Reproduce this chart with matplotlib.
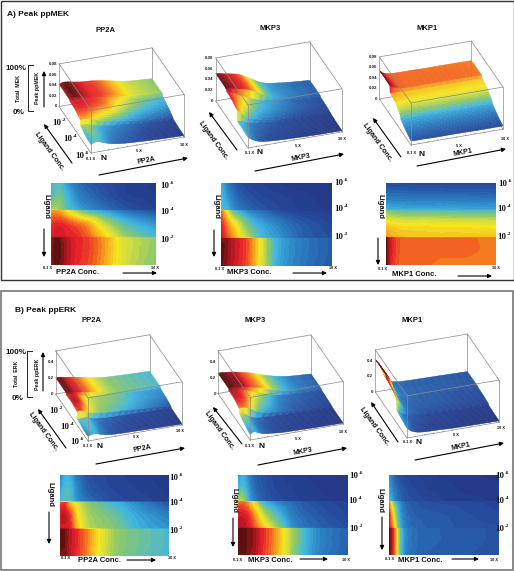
#!/usr/bin/env python
# -*- coding: utf-8 -*-

import numpy as np
import matplotlib
matplotlib.use('Agg')
import matplotlib.pyplot as plt
import matplotlib.tri as mtri
from matplotlib.colors import LinearSegmentedColormap
from matplotlib.patches import Rectangle
from mpl_toolkits.mplot3d import proj3d

W, H = 514, 571

CONC = [0.1, 0.5, 1, 1.5, 2.5, 3.5, 5, 7, 10]
# log10 ligand; the doubled rows are the steps at 1e-4 and 1e-2
LIGAND = [-6, -5, -4.03, -3.97, -3, -2.03, -1.97, -1, 0]

# values, percent of the panel's peak, top row = 1e-6
MEK_PP2A = [[35, 42, 40, 33, 22, 17, 13, 9, 6],
            [38, 45, 46, 40, 28, 22, 16, 10, 7],
            [52, 54, 50, 44, 35, 29, 23, 15, 9],
            [74, 75, 72, 66, 52, 42, 33, 22, 13],
            [85, 87, 87, 85, 80, 74, 58, 42, 30],
            [88, 90, 90, 89, 87, 82, 70, 53, 40],
            [93, 98, 97, 93, 88, 85, 76, 60, 51],
            [94, 100, 98, 94, 88, 85, 76, 60, 50],
            [93, 98, 97, 93, 87, 84, 75, 59, 49]]
MEK_MKP3 = [[38, 28, 20, 15, 11, 9, 7, 5, 4],
            [40, 33, 26, 20, 15, 12, 10, 8, 5],
            [42, 40, 32, 26, 20, 16, 12, 9, 6],
            [80, 68, 50, 40, 28, 22, 15, 10, 7],
            [88, 80, 70, 62, 45, 36, 27, 18, 11],
            [92, 85, 78, 70, 55, 42, 32, 20, 13],
            [97, 97, 93, 90, 82, 65, 38, 26, 17],
            [99, 97, 93, 90, 82, 65, 38, 26, 17],
            [98, 96, 92, 89, 81, 64, 37, 25, 16]]
MEK_MKP1 = [[14, 13, 13, 13, 12, 12, 12, 11, 11],
            [24, 23, 23, 23, 22, 22, 22, 22, 21],
            [38, 37, 37, 36, 36, 36, 36, 35, 35],
            [48, 46, 44, 43, 42, 42, 42, 41, 41],
            [68, 66, 65, 64, 64, 64, 63, 63, 62],
            [76, 74, 72, 71, 70, 70, 70, 70, 70],
            [98, 90, 84, 81, 80, 80, 80, 80, 79],
            [100, 90, 84, 81, 80, 80, 80, 80, 79],
            [98, 88, 83, 81, 80, 80, 79, 79, 78]]
ERK_PP2A = [[26, 35, 35, 25, 15, 12, 10, 8, 5],
            [30, 40, 40, 30, 18, 14, 11, 9, 6],
            [40, 42, 42, 32, 22, 18, 13, 11, 7],
            [82, 85, 70, 62, 50, 45, 38, 28, 15],
            [90, 92, 85, 70, 55, 50, 45, 35, 25],
            [88, 90, 88, 74, 57, 52, 48, 38, 30],
            [98, 98, 92, 88, 78, 66, 52, 46, 40],
            [98, 98, 92, 88, 78, 66, 52, 46, 40],
            [97, 97, 91, 87, 77, 65, 51, 45, 39]]
ERK_MKP3 = [[28, 36, 28, 20, 14, 10, 8, 6, 5],
            [38, 42, 32, 22, 15, 11, 9, 7, 5],
            [55, 55, 38, 26, 17, 13, 10, 8, 5],
            [78, 80, 74, 62, 38, 28, 20, 14, 9],
            [90, 90, 86, 77, 55, 42, 25, 17, 11],
            [92, 93, 90, 84, 68, 53, 30, 20, 13],
            [100, 100, 97, 95, 85, 75, 52, 30, 18],
            [100, 100, 97, 95, 85, 75, 52, 30, 18],
            [99, 99, 96, 94, 84, 74, 51, 29, 17]]
ERK_MKP1 = [[30, 20, 14, 11, 9, 8, 6, 5, 4],
            [34, 25, 18, 14, 11, 9, 8, 6, 5],
            [40, 30, 20, 16, 13, 11, 9, 8, 6],
            [78, 48, 30, 20, 16, 14, 13, 12, 10],
            [88, 62, 36, 24, 18, 17, 16, 14, 12],
            [92, 72, 40, 26, 20, 18, 17, 15, 14],
            [100, 85, 50, 30, 21, 19, 18, 17, 15],
            [100, 85, 50, 30, 21, 19, 18, 17, 15],
            [99, 84, 49, 29, 20, 18, 17, 16, 14]]

MEK_TICKS = [0, 0.02, 0.04, 0.06, 0.08]
ERK_TICKS = [0, 0.2, 0.4]
MEK_TOP = 0.08
ERK_TOP = 0.54

jet = LinearSegmentedColormap.from_list('print_jet', [
    (0.0, '#232d78'), (0.12, '#26489b'), (0.25, '#2a7cc0'), (0.38, '#3fb6e2'),
    (0.5, '#8dc96a'), (0.58, '#cfdc42'), (0.65, '#f6e71f'), (0.74, '#f7a81e'),
    (0.8, '#f36a21'), (0.88, '#e8202a'), (0.95, '#9c141b'), (1.0, '#54100f')])

plt.rcParams['font.family'] = ['Liberation Sans', 'DejaVu Sans']
fig = plt.figure(figsize=(W / 100, H / 100), dpi=100)

overlay = fig.add_axes([0, 0, 1, 1], zorder=10)
overlay.set_xlim(0, W)
overlay.set_ylim(H, 0)
overlay.axis('off')


def label(x, y, s, size=5, rot=0, ha='center', serif=False):
    overlay.text(x, y, s, fontsize=size, rotation=rot, ha=ha, va='center',
                 fontweight='bold', color='#111111',
                 family='Liberation Serif' if serif else 'Liberation Sans')


def arrow(x0, y0, x1, y1):
    overlay.annotate('', xy=(x1, y1), xytext=(x0, y0),
                     arrowprops=dict(arrowstyle='-|>', color='black', lw=0.8,
                                     mutation_scale=6, shrinkA=0, shrinkB=0))


def power(x, y, exp):
    label(x + 1, y, '10', size=6.3, ha='right', serif=True)
    label(x + 1.3, y - 3, str(exp), size=3.9, ha='left', serif=True)


def smooth_grid(values, peak):
    # each ligand band is smoothed on its own so the steps between them stay sharp
    z = np.array(values) / 100.0 * peak
    fine_x = np.linspace(CONC[0], CONC[-1], 80)
    parts_y, parts_z = [], []
    n_col = len(CONC)
    for a in (0, 3, 6):
        x, y = np.meshgrid(CONC, LIGAND[a:a + 3])
        tris = []
        for r in range(2):
            for c in range(n_col - 1):
                k = r * n_col + c
                tris.append([k, k + 1, k + n_col])
                tris.append([k + 1, k + n_col + 1, k + n_col])
        tri = mtri.Triangulation(x.ravel(), y.ravel(), np.array(tris))
        interp = mtri.CubicTriInterpolator(tri, z[a:a + 3].ravel(), kind='geom')
        fine_y = np.linspace(LIGAND[a], LIGAND[a + 2], 16)
        fx, fy = np.meshgrid(np.clip(fine_x, CONC[0] + 1e-6, CONC[-1] - 1e-6),
                             np.clip(fine_y, LIGAND[a] + 1e-6, LIGAND[a + 2] - 1e-6))
        parts_z.append(np.ma.filled(interp(fx, fy), 0.0))
        parts_y.append(fine_y)
    return fine_x, np.concatenate(parts_y), np.clip(np.vstack(parts_z), 0, peak)


def fit_axes(ax, front, right):
    # move and scale the 3d axes so that the base edge lands on these pixels
    for i in range(2):
        ax.apply_aspect()
        m = ax.get_proj()
        pts = []
        for x in (CONC[0], CONC[-1]):
            px, py, _ = proj3d.proj_transform(x, LIGAND[0], 0, m)
            pts.append(ax.transData.transform((px, py)))
        scale = (right[0] - front[0]) / (pts[1][0] - pts[0][0])
        box = ax.get_position()
        size = box.width * scale
        dx = (front[0] - pts[0][0]) / W
        dy = ((H - front[1]) - pts[0][1]) / H
        if i == 0:
            ax.set_position([box.x0, box.y0, size, size * W / H])
        else:
            ax.set_position([box.x0 + dx, box.y0 + dy, box.width, box.height])
    ax.apply_aspect()


def surface(values, peak, top, ticks, front, right):
    ax = fig.add_axes([0.3, 0.3, 0.4, 0.4 * W / H], projection='3d',
                      computed_zorder=False)
    ax.set_proj_type('ortho')
    ax.view_init(elev=30, azim=-109)
    ax.set_xlim(CONC[0], CONC[-1])
    ax.set_ylim(LIGAND[0], LIGAND[-1])
    ax.set_zlim(0, top)
    ax.set_box_aspect((1, 1, 0.5))
    ax.set_axis_off()
    ax.patch.set_alpha(0)
    fit_axes(ax, front, right)

    fx, fy, fz = smooth_grid(values, peak)
    gx, gy = np.meshgrid(fx, fy)
    surf = ax.plot_surface(gx, gy, fz, rstride=1, cstride=1, cmap=jet, vmin=0, vmax=peak,
                           shade=False, linewidth=0.25, zorder=2)
    surf.set_edgecolor(jet(surf.norm(surf.get_array())))

    x0, x1, y0, y1 = CONC[0], CONC[-1], LIGAND[0], LIGAND[-1]
    box_style = dict(color='#8a8a8a', lw=0.5)
    # back and base edges behind the surface
    for xs, ys, zs in [([x0, x1], [y1, y1], [0, 0]), ([x1, x1], [y1, y0], [0, 0]),
                       ([x0, x0], [y1, y0], [0, 0]), ([x0, x1], [y0, y0], [0, 0]),
                       ([x1, x1], [y1, y1], [0, top])]:
        ax.plot(xs, ys, zs, zorder=1, **box_style)
    # top and front edges in front of it
    for xs, ys, zs in [([x0, x1], [y1, y1], [top, top]), ([x1, x1], [y1, y0], [top, top]),
                       ([x0, x0], [y1, y0], [top, top]), ([x0, x1], [y0, y0], [top, top]),
                       ([x0, x0], [y1, y1], [0, top]), ([x0, x0], [y0, y0], [0, top]),
                       ([x1, x1], [y0, y0], [0, top])]:
        ax.plot(xs, ys, zs, zorder=3, **box_style)
    for t in np.arange(1, 11):
        ax.plot([t, t], [y0, y0 + 0.1], [0, 0], color='#555555', lw=0.3, zorder=3)

    # z tick labels sit on the back left edge
    m = ax.get_proj()
    for t in ticks:
        px, py, _ = proj3d.proj_transform(x0, y1, t, m)
        dx, dy = ax.transData.transform((px, py))
        fig.text((dx - 2) / W, dy / H, '%g' % t, fontsize=3.2, fontweight='bold',
                 ha='right', va='center', color='#222222')


def heatmap(values, peak, px):
    fx, fy, fz = smooth_grid(values, peak)
    left, right, top, bottom = px
    ax = fig.add_axes([left / W, 1 - bottom / H, (right - left) / W, (bottom - top) / H])
    ax.contourf(fx, fy, fz, levels=np.linspace(0, peak * 1.001, 45), cmap=jet,
                antialiased=False)
    ax.set_ylim(LIGAND[-1], LIGAND[0])
    ax.set_axis_off()


# frames
overlay.add_patch(Rectangle((0.5, 0.5), 513, 279, fill=False, ec='#333333', lw=1))
overlay.add_patch(Rectangle((1, 291), 512, 279, fill=False, ec='#777777', lw=1.2))

# A) ---------------------------------------------------------------------
label(7, 15, 'A) Peak ppMEK', size=6, ha='left')
label(106, 30, 'PP2A', size=5.5)
label(270, 29, 'MKP3', size=5.5)
label(427, 29, 'MKP1', size=5.5)

surface(MEK_PP2A, 0.045, MEK_TOP, MEK_TICKS, (91, 153), (184, 137))
surface(MEK_MKP3, 0.052, MEK_TOP, MEK_TICKS, (248, 148), (342, 134))
surface(MEK_MKP1, 0.055, MEK_TOP, MEK_TICKS, (411, 145), (503, 133))
heatmap(MEK_PP2A, 0.045, (51, 156, 183, 265))
heatmap(MEK_MKP3, 0.052, (221, 332, 183, 266))
heatmap(MEK_MKP1, 0.055, (386, 496, 183, 265))

label(16, 68, '100%', size=5.8)
label(19, 112, '0%', size=5.8)
overlay.plot([33, 28, 28, 33], [65, 65, 111, 111], color='#222222', lw=0.7)
label(18, 89, 'Total  MEK', size=3.8, rot=90)
label(38, 88, 'Peak ppMEK', size=3.8, rot=90)
arrow(44, 107, 44, 71)

power(60, 123, -2)
power(71, 139, -4)
power(83, 156, -6)
label(91, 159, '0.1 X', size=2.8)
label(104, 158, 'N', size=6)
label(139, 151, '5 X', size=2.8)
label(184, 145, '10 X', size=2.8)
label(49, 151, 'Ligand Conc.', size=5.2, rot=-54)
arrow(72, 163, 44, 124)
label(146, 161, 'PP2A', size=5, rot=11)
arrow(99, 175, 188, 158)

label(46, 207, 'Ligand', size=5.5, rot=-90)
arrow(44, 229, 44, 257)
label(48, 268, '0.1 X', size=2.8)
label(78, 272, 'PP2A Conc.', size=5.5)
arrow(123, 273, 157, 273)
label(155, 268, '10 X', size=2.8)
power(168, 186, -6)
power(168, 212, -4)
power(168, 240, -2)

label(213, 140, 'Ligand Conc.', size=5.2, rot=-54)
arrow(237, 150, 209, 112)
label(250, 153, '0.1 X', size=2.8)
label(260, 153, 'N', size=6)
label(298, 146, '5 X', size=2.8)
label(342, 139, '10 X', size=2.8)
label(301, 158, 'MKP3', size=5, rot=11)
arrow(255, 171, 344, 154)

label(216, 207, 'Ligand', size=5.5, rot=-90)
arrow(214, 230, 214, 257)
label(220, 269, '0.1 X', size=2.8)
label(249, 272, 'MKP3 Conc.', size=5.5)
arrow(293, 273, 327, 273)
label(333, 268, '10 X', size=2.8)
power(342, 183, -6)
power(342, 209, -4)
power(342, 237, -2)

label(377, 142, 'Ligand Conc.', size=5.2, rot=-54)
arrow(401, 157, 373, 118)
label(412, 153, '0.1 X', size=2.8)
label(422, 154, 'N', size=6)
label(459, 146, '5 X', size=2.8)
label(505, 139, '10 X', size=2.8)
label(463, 153, 'MKP1', size=5, rot=11)
arrow(417, 166, 506, 149)

label(380, 207, 'Ligand', size=5.5, rot=-90)
arrow(378, 238, 378, 265)
label(383, 269, '0.1 X', size=2.8)
label(414, 275, 'MKP1 Conc.', size=5.5)
arrow(458, 276, 492, 276)
label(496, 268, '10 X', size=2.8)
power(506, 184, -6)
power(505, 209, -4)
power(505, 237, -2)

# B) ---------------------------------------------------------------------
label(15, 311, 'B) Peak ppERK', size=6, ha='left')
label(92, 320, 'PP2A', size=5.5)
label(255, 320, 'MKP3', size=5.5)
label(412, 320, 'MKP1', size=5.5)

surface(ERK_PP2A, 0.21, ERK_TOP, ERK_TICKS, (88, 441), (182, 427))
surface(ERK_MKP3, 0.26, ERK_TOP, ERK_TICKS, (250, 440), (343, 425))
surface(ERK_MKP1, 0.42, ERK_TOP, ERK_TICKS, (407, 438), (499, 422))
heatmap(ERK_PP2A, 0.21, (60, 169, 475, 556))
heatmap(ERK_MKP3, 0.26, (238, 348, 475, 555))
heatmap(ERK_MKP1, 0.42, (389, 499, 475, 555))

label(16, 353, '100%', size=5.8)
label(18, 398, '0%', size=5.8)
overlay.plot([32, 27, 27, 32], [351, 351, 397, 397], color='#222222', lw=0.7)
label(17, 374, 'Total  ERK', size=3.8, rot=90)
label(37, 374, 'Peak ppERK', size=3.8, rot=90)
arrow(43, 391, 43, 352)

power(57, 411, -2)
power(68, 427, -4)
power(78, 442, -6)
label(88, 446, '0.1 X', size=2.8)
label(100, 447, 'N', size=6)
label(136, 437, '5 X', size=2.8)
label(180, 431, '10 X', size=2.8)
label(43, 431, 'Ligand Conc.', size=5.2, rot=-54)
arrow(66, 448, 38, 409)
label(142, 449, 'PP2A', size=5, rot=11)
arrow(96, 464, 185, 448)

label(50, 495, 'Ligand', size=5.5, rot=-90)
arrow(49, 512, 49, 544)
label(66, 558, '0.1 X', size=2.8)
label(99, 560, 'PP2A Conc.', size=5.5)
arrow(127, 560, 156, 560)
label(172, 558, '10 X', size=2.8)
power(177, 478, -6)
power(177, 503, -4)
power(177, 531, -2)

label(219, 430, 'Ligand Conc.', size=5.2, rot=-54)
arrow(242, 444, 213, 407)
label(250, 446, '0.1 X', size=2.8)
label(262, 446, 'N', size=6)
label(298, 439, '5 X', size=2.8)
label(343, 432, '10 X', size=2.8)
label(303, 452, 'MKP3', size=5, rot=11)
arrow(258, 465, 347, 448)

label(234, 500, 'Ligand', size=5.5, rot=-90)
arrow(233, 518, 233, 547)
label(238, 560, '0.1 X', size=2.8)
label(270, 560, 'MKP3 Conc.', size=5.5)
arrow(300, 559, 328, 559)
label(346, 560, '10 X', size=2.8)
power(357, 476, -6)
power(356, 501, -4)
power(357, 529, -2)

label(374, 426, 'Ligand Conc.', size=5.2, rot=-54)
arrow(398, 442, 371, 402)
label(408, 442, '0.1 X', size=2.8)
label(419, 443, 'N', size=6)
label(456, 435, '5 X', size=2.8)
label(501, 428, '10 X', size=2.8)
label(461, 447, 'MKP1', size=5, rot=11)
arrow(415, 460, 504, 443)

label(380, 501, 'Ligand', size=5.5, rot=-90)
arrow(382, 517, 382, 550)
label(390, 559, '0.1 X', size=2.8)
label(420, 561, 'MKP1 Conc.', size=5.5)
arrow(452, 559, 479, 559)
label(494, 560, '10 X', size=2.8)
power(503, 476, -6)
power(503, 501, -4)
power(503, 529, -2)

fig.savefig('out.png', dpi=100)
